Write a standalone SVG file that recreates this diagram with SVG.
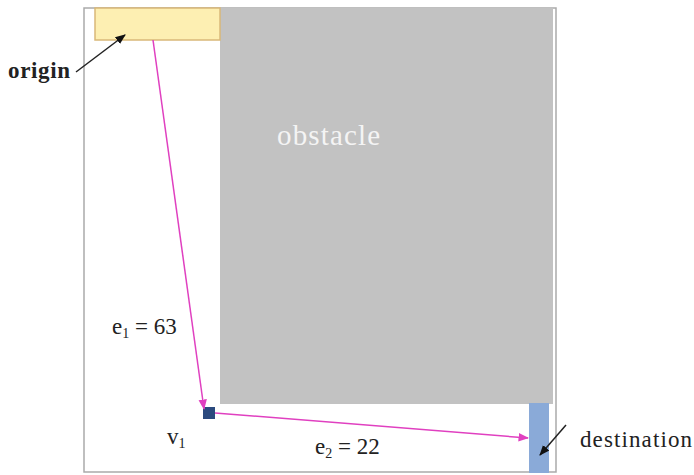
<svg xmlns="http://www.w3.org/2000/svg" width="694" height="475" viewBox="0 0 694 475">
<defs>
<style>
.lbl{font-family:"Liberation Serif","Times New Roman",serif;font-size:23px;fill:#222}
.sub{font-size:14px}
.edge{stroke:#e040c0;stroke-width:1.5;fill:none}
.pt{stroke:#222;stroke-width:1.5;fill:none}
</style>
<marker id="mag" viewBox="0 0 10 10" refX="9" refY="5" markerWidth="7" markerHeight="7" orient="auto"><path d="M0,1 L10,5 L0,9 Z" fill="#e040c0"/></marker>
<marker id="blk" viewBox="0 0 10 10" refX="9" refY="5" markerWidth="7" markerHeight="7" orient="auto"><path d="M0,1 L10,5 L0,9 Z" fill="#111"/></marker>
</defs>
<rect width="694" height="475" fill="#fff"/>
<g id="frame"><rect x="84" y="8" width="472" height="464" fill="none" stroke="#aaa" stroke-width="1.5"/></g>
<g id="obstacle"><rect x="220" y="8" width="333" height="396" fill="#c2c2c2"/><text x="277" y="145" textLength="103" style="font-family:'Liberation Serif',serif;font-size:29px;fill:#f4f4f4">obstacle</text></g>
<g id="origin"><rect x="95" y="8" width="125" height="32" fill="#fdefb2" stroke="#d9b878" stroke-width="1.5"/><text class="lbl" x="8" y="78" font-weight="bold" textLength="62">origin</text></g>
<g id="v1"><rect x="203" y="407" width="12" height="12" fill="#2b4a7e"/><text class="lbl" x="167" y="444">v<tspan class="sub" dy="4">1</tspan></text></g>
<g id="destination"><rect x="529" y="403" width="20" height="70" fill="#8aaad8"/><text class="lbl" x="580" y="447" textLength="112">destination</text></g>
<g id="connectors">
<line class="edge" x1="153" y1="40" x2="204" y2="409" marker-end="url(#mag)"/>
<line class="edge" x1="215" y1="413" x2="528" y2="438" marker-end="url(#mag)"/>
<line class="pt" x1="76" y1="72" x2="125" y2="35" marker-end="url(#blk)"/>
<line class="pt" x1="566" y1="425" x2="540" y2="455" marker-end="url(#blk)"/>
</g>
<g id="labels">
<text class="lbl" x="112" y="334">e<tspan class="sub" dy="4">1</tspan><tspan dy="-4"> = 63</tspan></text>
<text class="lbl" x="315" y="454">e<tspan class="sub" dy="4">2</tspan><tspan dy="-4"> = 22</tspan></text>
</g>
</svg>
